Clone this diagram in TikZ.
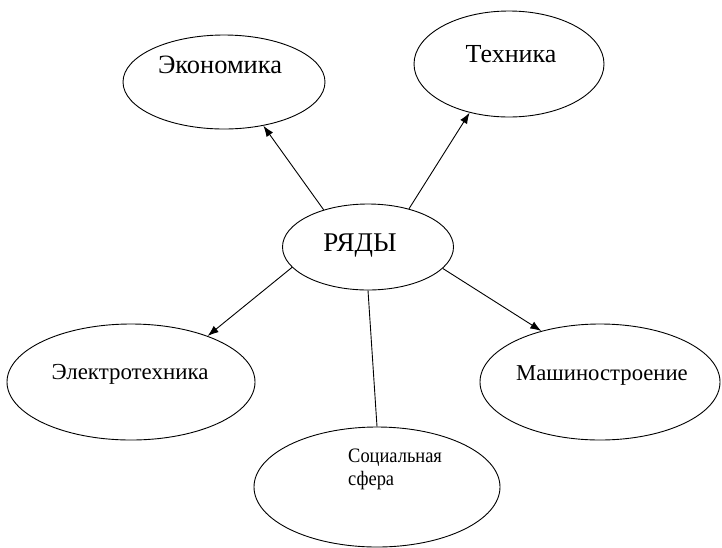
\documentclass[tikz,border=0pt]{standalone}
\usepackage{fontspec}
\setmainfont{Liberation Serif}
\newfontfamily\narrowserif{Liberation Serif}[FakeStretch = 0.9]
\usetikzlibrary{shapes.geometric, arrows.meta}

\begin{document}
\begin{tikzpicture}[x = 1pt, y = -1pt,
        oval/.style = {draw, ellipse, line width = 0.9pt, inner sep = 0pt},
        word/.style = {anchor = base, inner sep = 0pt},
        link/.style = {line width = 0.9pt},
        arrow/.style = {link, -{Latex[length = 11pt, width = 8pt]}}]
        \useasboundingbox (0, 0) rectangle (722, 547);

        % Nodes
        \node [oval, minimum width = 171pt, minimum height = 86pt] (ryady) at (368, 247) {};
        \node [oval, minimum width = 202pt, minimum height = 94pt] (econ) at (224, 82) {};
        \node [oval, minimum width = 190pt, minimum height = 106pt] (tech) at (509, 64) {};
        \node [oval, minimum width = 248pt, minimum height = 116pt] (elec) at (131, 382) {};
        \node [oval, minimum width = 240pt, minimum height = 116pt] (mash) at (600, 382) {};
        \node [oval, minimum width = 246pt, minimum height = 120pt] (soc) at (377, 487) {};

        % Node text
        \node [word, font = \fontsize{27}{32}\selectfont] (ryadyText) at (360, 251) {РЯДЫ};
        \node [word, font = \fontsize{26.4}{31}\selectfont] (econText) at (220, 73) {Экономика};
        \node [word, font = \fontsize{26}{31}\selectfont] (techText) at (511, 62) {Техника};
        \node [word, font = \fontsize{22.9}{27}\selectfont] (elecText) at (130, 379) {Электротехника};
        \node [word, font = \fontsize{22.7}{27}\selectfont] (mashText) at (602, 380) {Машиностроение};
        \node [word, anchor = base west, align = left, font = \narrowserif\fontsize{20.5}{22.5}\selectfont] (socText) at (348, 485) {Социальная\\сфера};

        % Draw the links
        \draw [arrow] (ryady.140) -- (econ.312);
        \draw [arrow] (ryady.43) -- (tech.231);
        \draw [arrow] (ryady.195) -- (elec.31);
        \draw [arrow] (ryady.344) -- (mash.139);
        \draw [link] (ryady.south) -- (soc.north);

\end{tikzpicture}
\end{document}
